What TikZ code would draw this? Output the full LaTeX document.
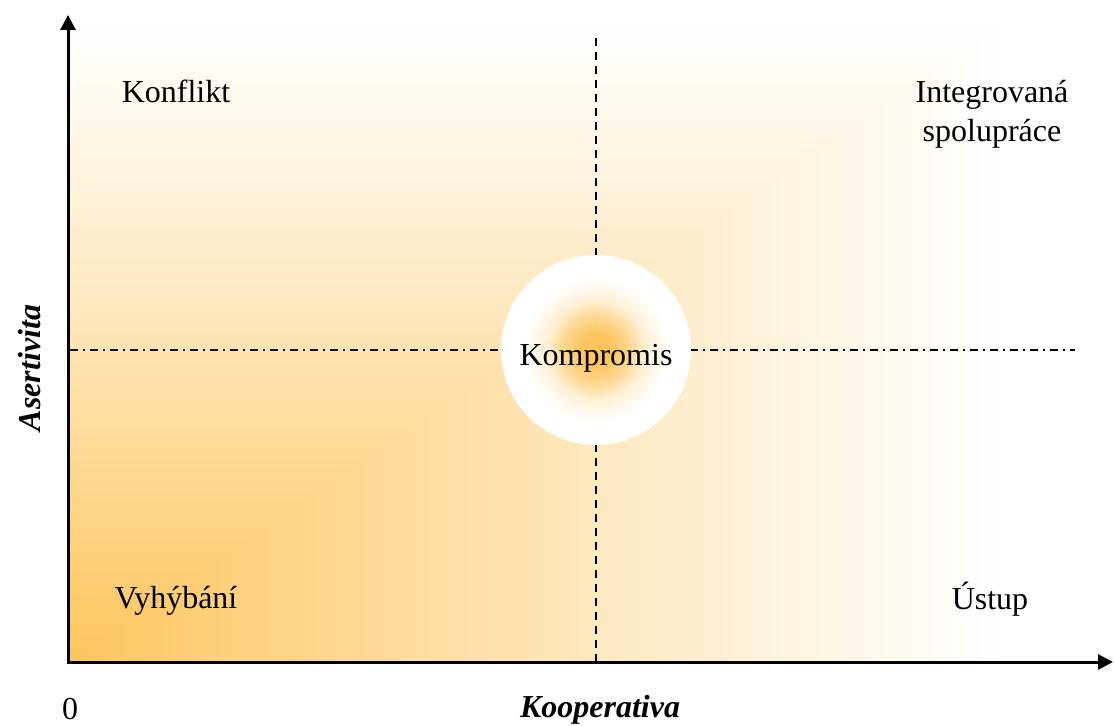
\documentclass[tikz,border=0pt]{standalone}
\usepackage{fontspec}
\setmainfont{Liberation Serif}
\usepackage{xcolor}
\definecolor{myorange}{RGB}{253,197,92}
\colorlet{myorangemid}{myorange!65!white}
\colorlet{myorangelow}{myorange!25!white}
\usetikzlibrary{arrows.meta,positioning,shapes.geometric}
\pgfdeclareradialshading{myglow}{\pgfpoint{0bp}{0bp}}{color(0bp)=(myorange); color(4bp)=(myorange); color(9bp)=(myorangemid); color(13bp)=(myorangelow); color(19bp)=(white); color(50bp)=(white)}

\begin{document}
\begin{tikzpicture}[
  x=0.5pt,y=0.5pt,
  axis/.style={line width=1.5pt,{Triangle[length=7.5pt,width=7.5pt]}-{Triangle[length=7.5pt,width=7.5pt]}},
  vline/.style={line width=1pt,dash pattern=on 4pt off 3pt},
  hline/.style={line width=0.9pt,dash pattern=on 4pt off 2.5pt on 1pt off 2.5pt},
  lbl/.style={font=\fontsize{16}{19.5}\selectfont,align=center},
  axlbl/.style={font=\fontsize{16}{19.5}\selectfont\bfseries\itshape}
]
\useasboundingbox (0,0) rectangle (1114,725);

\foreach \k in {100,99,...,1}{
  \pgfmathsetmacro{\p}{100*(1-\k/100)^1.13}
  \pgfmathsetmacro{\w}{9.5*\k}
  \pgfmathsetmacro{\h}{6.5*\k}
  \fill[myorange!\p!white] (68,63) rectangle ++(\w,\h);
}

\coordinate (origin) at (68,63);
\coordinate (xend) at (1113,63);
\coordinate (yend) at (68,710);
\coordinate (vtop) at (596,687);
\coordinate (vbot) at (596,63);
\coordinate (hleft) at (70,375);
\coordinate (hright) at (1075,375);

\draw[vline] (vtop) -- (vbot);
\draw[hline] (hleft) -- (hright);

\node[circle, minimum size=95pt, shading=myglow, lbl, text height=15pt, text depth=0pt] (kompromis) at (596,375) {Kompromis};

\draw[axis] (yend) -- (origin) -- (xend);

\node[lbl] (konflikt) at (176,634) {Konflikt};
\node[lbl] (integrovana) at (992,611) {Integrovaná\\spolupráce};
\node[lbl] (vyhybani) at (176,124) {Vyhýbání};
\node[lbl] (ustup) at (990,126) {Ústup};
\node[lbl, inner sep=1pt] (zero) at (70,16) {0};
\node[axlbl, inner sep=1pt] (kooperativa) at (600,15) {Kooperativa};
\node[axlbl, rotate=90] (asertivita) at (30,357) {Asertivita};

\end{tikzpicture}
\end{document}
